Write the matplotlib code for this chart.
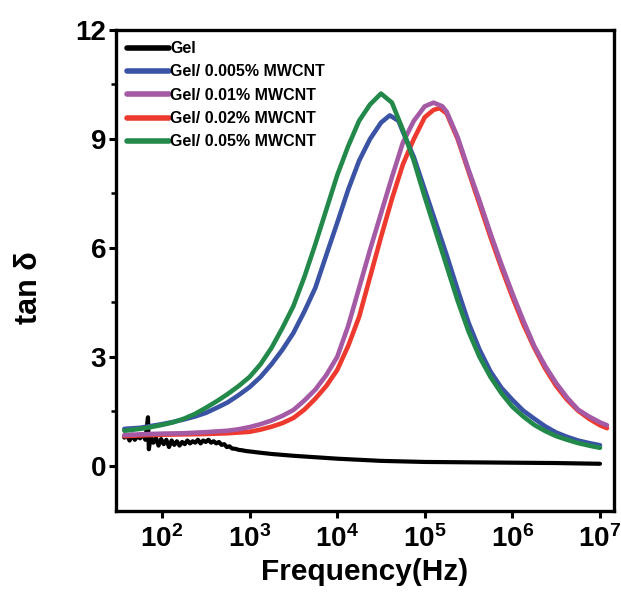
import numpy as np
import matplotlib
matplotlib.use("Agg")
import matplotlib.pyplot as plt
from matplotlib.ticker import FixedLocator, FixedFormatter, LogLocator, NullFormatter, MultipleLocator

plt.rcParams['font.family'] = ['Liberation Sans', 'DejaVu Sans']
plt.rcParams['font.weight'] = 'bold'
plt.rcParams['mathtext.fontset'] = 'custom'
plt.rcParams['mathtext.rm'] = 'Liberation Sans:bold'
plt.rcParams['mathtext.bf'] = 'Liberation Sans:bold'
plt.rcParams['mathtext.it'] = 'Liberation Sans:bold'

# ---- data (log10 frequency, tan delta) ----
labels = ['Gel', 'Gel/ 0.005% MWCNT', 'Gel/ 0.01% MWCNT', 'Gel/ 0.02% MWCNT', 'Gel/ 0.05% MWCNT']
colors = ['#000000', '#3A53A4', '#A55AA5', '#EE3A2E', '#23894B']

gel_logf = [1.57, 1.60, 1.63, 1.66, 1.69, 1.72, 1.75, 1.78, 1.81, 1.84, 1.85, 1.87, 1.90, 1.93,
            1.96, 1.99, 2.02, 2.05, 2.08, 2.11, 2.14, 2.17, 2.20, 2.23, 2.26, 2.29, 2.32, 2.35,
            2.38, 2.41, 2.44, 2.47, 2.50, 2.53, 2.56, 2.59, 2.62, 2.65, 2.68, 2.71, 2.74, 2.77,
            2.80, 2.84, 2.88, 2.92, 2.96, 3.00, 3.10, 3.25, 3.50, 3.75, 4.00, 4.25, 4.50, 5.00,
            5.50, 6.00, 6.50, 7.00]
gel_tan = [0.78, 0.84, 0.70, 0.86, 0.72, 0.82, 0.76, 0.88, 0.72, 1.34, 0.46, 0.80, 0.64, 0.78,
           0.56, 0.74, 0.60, 0.72, 0.52, 0.70, 0.58, 0.68, 0.56, 0.66, 0.60, 0.70, 0.62, 0.68,
           0.64, 0.72, 0.62, 0.70, 0.66, 0.72, 0.64, 0.68, 0.62, 0.66, 0.58, 0.60, 0.52, 0.54,
           0.48, 0.47, 0.44, 0.43, 0.41, 0.40, 0.37, 0.33, 0.28, 0.24, 0.20, 0.17, 0.14, 0.11,
           0.10, 0.09, 0.08, 0.06]

blue_logf = [1.57, 1.75, 1.875, 2.0, 2.125, 2.25, 2.375, 2.5, 2.625, 2.75, 2.875, 3.0, 3.125,
             3.25, 3.375, 3.5, 3.625, 3.75, 3.875, 4.0, 4.125, 4.25, 4.375, 4.5, 4.6, 4.7,
             4.75, 4.875, 5.0, 5.125, 5.25, 5.375, 5.5, 5.625, 5.75, 5.875, 6.0, 6.125, 6.25,
             6.375, 6.5, 6.625, 6.75, 6.875, 7.0]
blue_tan = [1.02, 1.05, 1.10, 1.15, 1.21, 1.28, 1.36, 1.46, 1.60, 1.75, 1.95, 2.17, 2.45,
            2.80, 3.20, 3.66, 4.25, 4.90, 5.80, 6.69, 7.60, 8.40, 9.00, 9.45, 9.65, 9.50,
            9.20, 8.50, 7.60, 6.70, 5.80, 4.85, 3.94, 3.20, 2.60, 2.15, 1.82, 1.52, 1.30,
            1.09, 0.92, 0.80, 0.70, 0.63, 0.57]

purple_logf = [1.57, 1.75, 2.0, 2.25, 2.5, 2.625, 2.75, 2.875, 3.0, 3.125, 3.25, 3.375, 3.5,
               3.625, 3.75, 3.875, 4.0, 4.125, 4.25, 4.375, 4.5, 4.625, 4.75, 4.875, 5.0,
               5.1, 5.2, 5.25, 5.375, 5.5, 5.625, 5.75, 5.875, 6.0, 6.125, 6.25, 6.375, 6.5,
               6.625, 6.75, 6.875, 7.0, 7.08]
purple_tan = [0.85, 0.87, 0.89, 0.90, 0.93, 0.95, 0.97, 1.01, 1.07, 1.15, 1.25, 1.38, 1.54,
              1.80, 2.10, 2.50, 3.00, 3.85, 4.90, 5.95, 6.95, 7.95, 8.90, 9.50, 9.90,
              10.0, 9.90, 9.75, 9.05, 8.15, 7.30, 6.40, 5.55, 4.75, 4.00, 3.30, 2.75, 2.28,
              1.88, 1.55, 1.36, 1.20, 1.12]

red_logf = [1.57, 1.75, 2.0, 2.25, 2.5, 2.75, 2.875, 3.0, 3.125, 3.25, 3.375, 3.5, 3.625,
            3.75, 3.875, 4.0, 4.125, 4.25, 4.375, 4.5, 4.625, 4.75, 4.875, 5.0, 5.1, 5.17,
            5.25, 5.375, 5.5, 5.625, 5.75, 5.875, 6.0, 6.125, 6.25, 6.375, 6.5, 6.625, 6.75,
            6.875, 7.0, 7.08]
red_tan = [0.82, 0.84, 0.86, 0.87, 0.88, 0.90, 0.92, 0.94, 1.00, 1.08, 1.18, 1.32, 1.55,
           1.85, 2.20, 2.64, 3.30, 4.10, 5.20, 6.30, 7.35, 8.30, 9.00, 9.60, 9.80, 9.85,
           9.70, 9.00, 8.10, 7.20, 6.30, 5.45, 4.65, 3.90, 3.25, 2.68, 2.20, 1.82, 1.52,
           1.30, 1.12, 1.04]

green_logf = [1.57, 1.75, 1.875, 2.0, 2.125, 2.25, 2.375, 2.5, 2.625, 2.75, 2.875, 3.0,
              3.125, 3.25, 3.375, 3.5, 3.625, 3.75, 3.875, 4.0, 4.125, 4.25, 4.375, 4.5,
              4.625, 4.75, 4.875, 5.0, 5.125, 5.25, 5.375, 5.5, 5.625, 5.75, 5.875, 6.0,
              6.125, 6.25, 6.375, 6.5, 6.625, 6.75, 6.875, 7.0]
green_tan = [0.97, 1.02, 1.07, 1.13, 1.20, 1.30, 1.43, 1.60, 1.78, 1.98, 2.20, 2.45,
             2.80, 3.25, 3.80, 4.40, 5.20, 6.10, 7.05, 8.00, 8.80, 9.50, 9.95, 10.25,
             10.0, 9.25, 8.40, 7.40, 6.45, 5.50, 4.55, 3.70, 3.00, 2.45, 2.00, 1.63,
             1.36, 1.13, 0.96, 0.82, 0.72, 0.63, 0.56, 0.50]

xtick_vals = [1e2, 1e3, 1e4, 1e5, 1e6, 1e7]
xtick_labels = [r'$10^{2}$', r'$10^{3}$', r'$10^{4}$', r'$10^{5}$', r'$10^{6}$', r'$10^{7}$']
ytick_vals = [0, 3, 6, 9, 12]

fig = plt.figure(figsize=(6.21, 5.98), dpi=100)
ax = fig.add_axes([116 / 621, 87 / 598, 498 / 621, 481 / 598])

series = {
    'Gel': (gel_logf, gel_tan, 3.0),
    'Gel/ 0.005% MWCNT': (blue_logf, blue_tan, 3.3),
    'Gel/ 0.01% MWCNT': (purple_logf, purple_tan, 3.3),
    'Gel/ 0.02% MWCNT': (red_logf, red_tan, 3.3),
    'Gel/ 0.05% MWCNT': (green_logf, green_tan, 3.3),
}
order = ['Gel', 'Gel/ 0.02% MWCNT', 'Gel/ 0.01% MWCNT', 'Gel/ 0.005% MWCNT', 'Gel/ 0.05% MWCNT']
handles = {}
for name in order:
    lf, tv, lw = series[name]
    c = colors[labels.index(name)]
    h, = ax.plot(10 ** np.array(lf), tv, color=c, lw=lw, solid_capstyle='round',
                 solid_joinstyle='round', label=name)
    handles[name] = h

ax.set_xscale('log')
ax.set_xlim(10 ** 1.475, 10 ** 7.16)
ax.set_ylim(-1.24, 12)

ax.xaxis.set_major_locator(FixedLocator(xtick_vals))
ax.xaxis.set_major_formatter(FixedFormatter(xtick_labels))
ax.xaxis.set_minor_locator(LogLocator(base=10, subs=np.arange(2, 10)))
ax.xaxis.set_minor_formatter(NullFormatter())
ax.yaxis.set_major_locator(FixedLocator(ytick_vals))
ax.yaxis.set_minor_locator(MultipleLocator(1.5))

for s in ax.spines.values():
    s.set_linewidth(2.4)
ax.tick_params(axis='both', which='major', direction='out', length=5, width=2.2,
               labelsize=20, pad=2, top=False, right=False)
ax.tick_params(axis='both', which='minor', direction='out', length=3.5, width=1.8,
               top=False, right=False)
ax.tick_params(axis='x', which='major', pad=5)
for lab in ax.get_yticklabels():
    lab.set_fontweight('bold')

ax.set_xlabel('Frequency(Hz)', fontsize=21.5, fontweight='bold')
ax.xaxis.set_label_coords(0.5, -0.098)
ax.set_ylabel('tan δ', fontsize=22, fontweight='bold')
ax.yaxis.set_label_coords(-0.145, 0.464)

leg = ax.legend([handles[n] for n in labels], labels, loc='upper left',
                bbox_to_anchor=(0.0, 1.0), frameon=False,
                prop={'weight': 'bold', 'size': 11.5}, handlelength=2.6,
                handletextpad=0.1, labelspacing=0.52, borderaxespad=0.4,
                borderpad=0.3)
for l in leg.get_lines():
    l.set_linewidth(4)

fig.savefig('out.png', dpi=100)
